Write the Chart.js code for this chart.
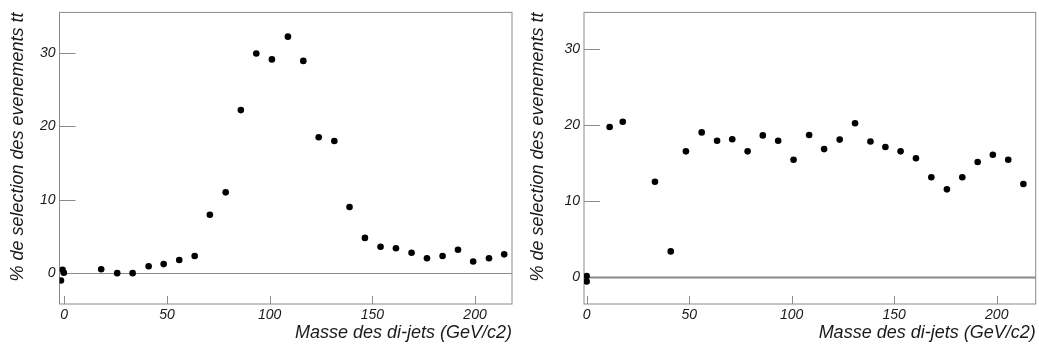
<!DOCTYPE html>
<html>
<head>
<meta charset="utf-8">
<script src="https://cdn.jsdelivr.net/npm/chart.js@4"></script>
<style>
  html, body { margin: 0; padding: 0; background: #fff; }
  #wrap { position: relative; width: 1039px; height: 349px; }
  canvas { position: absolute; top: 0; }
  #c-left { left: 0; }
  #c-right { left: 520px; }
</style>
</head>
<body>
<div id="wrap">
  <canvas id="c-left" width="520" height="349"></canvas>
  <canvas id="c-right" width="519" height="349"></canvas>
</div>
<script>
// Axes
const xTicks = [0, 50, 100, 150, 200];
const yTicks = [0, 10, 20, 30];
const xTitle = 'Masse des di-jets (GeV/c2)';
const yTitle = '% de selection des evenements tt';

// Plot de gauche
const massLeft = [-1.6, -0.8, -0.2, 18.0, 25.8, 33.3, 41.1, 48.4, 56.0, 63.5, 70.9, 78.6, 86.0, 93.5, 101.1,
  108.9, 116.4, 123.9, 131.5, 138.9, 146.4, 154.0, 161.5, 169.1, 176.6, 184.2, 191.7, 199.1, 206.8, 214.2];
const pctLeft = [-1.0, 0.45, 0.05, 0.53, 0.0, 0.0, 0.93, 1.23, 1.8, 2.33, 7.95, 11.0, 22.2, 29.9, 29.1,
  32.2, 28.9, 18.5, 18.0, 9.0, 4.8, 3.6, 3.4, 2.78, 2.03, 2.33, 3.18, 1.59, 2.03, 2.56];

// Plot de droite
const massRight = [0, 0, 11.2, 17.6, 33.3, 41.0, 48.4, 56.1, 63.6, 71.0, 78.5, 85.9, 93.4, 100.9, 108.5,
  115.8, 123.4, 130.9, 138.4, 145.7, 153.1, 160.6, 168.1, 175.7, 183.2, 190.7, 198.1, 205.6, 213.0];
const pctRight = [0.08, -0.64, 19.7, 20.4, 12.5, 3.33, 16.5, 19.0, 17.9, 18.1, 16.5, 18.6, 17.9, 15.4, 18.65,
  16.8, 18.05, 20.2, 17.8, 17.07, 16.5, 15.6, 13.1, 11.5, 13.1, 15.1, 16.05, 15.4, 12.2];

const FONT = 'Liberation Sans, Arial, Helvetica, sans-serif';
const AXIS_GREY = '#8a8a8a';

// cadre, ligne du zero et ticks vers l'interieur (style ROOT)
const framePlugin = {
  id: 'frame',
  beforeDatasetsDraw(chart) {
    const { ctx, chartArea: a, scales: { x, y } } = chart;
    ctx.save();
    ctx.strokeStyle = AXIS_GREY;
    ctx.lineWidth = 1;
    ctx.strokeRect(a.left, a.top, a.right - a.left, a.bottom - a.top);

    const y0 = Math.round(y.getPixelForValue(0)) + 0.5;
    ctx.lineWidth = chart.options.zeroWidth || 1;
    ctx.beginPath();
    ctx.moveTo(a.left, y0);
    ctx.lineTo(a.right, y0);
    ctx.stroke();

    ctx.lineWidth = 1;
    ctx.beginPath();
    yTicks.forEach(v => {
      const py = Math.round(y.getPixelForValue(v)) + 0.5;
      ctx.moveTo(a.left, py);
      ctx.lineTo(a.left + 16, py);
    });
    xTicks.forEach(v => {
      const px = Math.round(x.getPixelForValue(v)) + 0.5;
      ctx.moveTo(px, a.bottom);
      ctx.lineTo(px, a.bottom - 8);
    });
    ctx.stroke();
    ctx.restore();
  }
};

function makeChart(id, xs, ys, opts) {
  const ctx = document.getElementById(id).getContext('2d');
  return new Chart(ctx, {
    type: 'scatter',
    data: {
      datasets: [{
        data: xs.map((m, i) => ({ x: m, y: ys[i] })),
        backgroundColor: '#000',
        borderWidth: 0,
        pointRadius: 3.3,
        pointHoverRadius: 3.3,
      }],
    },
    options: {
      responsive: false,
      animation: false,
      devicePixelRatio: 1,
      zeroWidth: opts.zeroWidth,
      layout: { padding: { top: 4, right: opts.padRight, bottom: 0, left: 0 } },
      plugins: { legend: { display: false }, tooltip: { enabled: false } },
      scales: {
        x: {
          type: 'linear',
          min: opts.xMin,
          max: opts.xMax,
          grid: { display: false, drawTicks: false },
          border: { display: false },
          afterBuildTicks: s => { s.ticks = xTicks.map(v => ({ value: v })); },
          afterFit: s => { s.height = 45; },
          ticks: {
            padding: 3,
            maxRotation: 0,
            color: '#1a1a1a',
            font: { family: FONT, size: 14, style: 'italic' },
          },
          title: {
            display: true,
            text: xTitle,
            align: 'end',
            color: '#1a1a1a',
            padding: { top: 0, bottom: 5 },
            font: { family: FONT, size: 18, style: 'italic' },
          },
        },
        y: {
          type: 'linear',
          min: opts.yMin,
          max: opts.yMax,
          grid: { display: false, drawTicks: false },
          border: { display: false },
          afterBuildTicks: s => { s.ticks = yTicks.map(v => ({ value: v })); },
          afterFit: s => { s.width = opts.axisLeft; },
          ticks: {
            padding: 4,
            color: '#1a1a1a',
            font: { family: FONT, size: 14, style: 'italic' },
          },
          title: {
            display: true,
            text: yTitle,
            align: 'end',
            color: '#1a1a1a',
            padding: { top: 7, bottom: 0 },
            font: { family: FONT, size: 18, style: 'italic' },
          },
        },
      },
    },
    plugins: [framePlugin],
  });
}

makeChart('c-left', massLeft, pctLeft, {
  xMin: -2.3, xMax: 218, yMin: -4.2, yMax: 35.5, axisLeft: 59.5, padRight: 8, zeroWidth: 1,
});
makeChart('c-right', massRight, pctRight, {
  xMin: -1.3, xMax: 219, yMin: -3.6, yMax: 34.8, axisLeft: 64, padRight: 3.3, zeroWidth: 2,
});
</script>
</body>
</html>
